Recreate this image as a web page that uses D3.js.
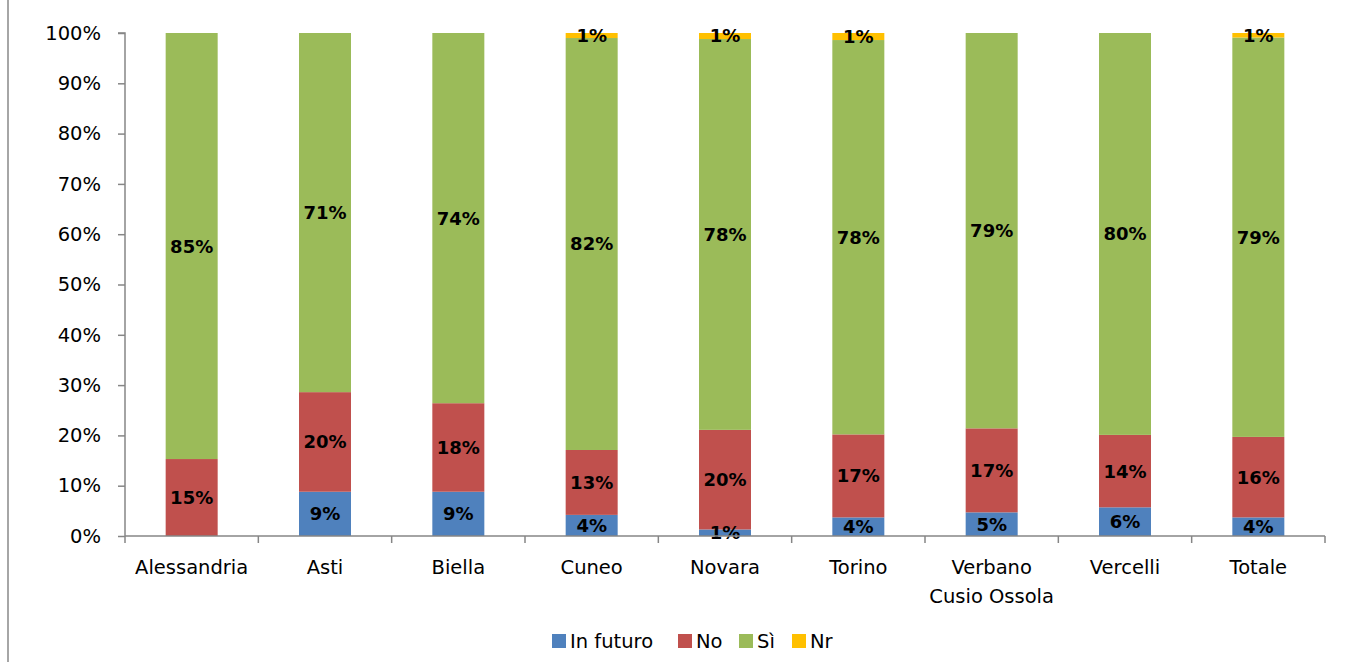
<!DOCTYPE html>
<html>
<head>
<meta charset="utf-8">
<script src="https://cdn.jsdelivr.net/npm/d3@7"></script>
<style>
  html, body { margin: 0; padding: 0; background: #fff; }
  svg { display: block; }
  text { font-family: "DejaVu Sans", Verdana, sans-serif; }
</style>
</head>
<body>
<svg id="chart" width="1365" height="662"></svg>
<script>
// Provinces (plus overall total) shown along the x axis
const categories = ["Alessandria", "Asti", "Biella", "Cuneo", "Novara", "Torino", "Verbano\nCusio Ossola", "Vercelli", "Totale"];
// Answer shares, in percent, per province
const inFuturo = [0.0, 8.8, 8.8, 4.2, 1.3, 3.7, 4.7, 5.7, 3.7];
const no       = [15.3, 19.8, 17.6, 12.9, 19.8, 16.5, 16.7, 14.4, 16.0];
const si       = [84.7, 71.4, 73.6, 81.9, 77.7, 78.4, 78.6, 79.9, 79.4];
const nr       = [0.0, 0.0, 0.0, 1.0, 1.2, 1.4, 0.0, 0.0, 0.9];
const seriesNames = ["In futuro", "No", "Sì", "Nr"];
const yTicks = [0, 10, 20, 30, 40, 50, 60, 70, 80, 90, 100];

const colors = ["#4F81BD", "#C0504D", "#9BBB59", "#FFC000"];
const seriesValues = [inFuturo, no, si, nr];

const svg = d3.select("#chart");
const margin = { left: 125, right: 40, top: 33, bottom: 126 };
const W = 1365, H = 662;

// Outer chart border (left edge visible)
svg.append("line")
  .attr("x1", 8).attr("x2", 8).attr("y1", 0).attr("y2", H)
  .attr("stroke", "#a6a6a6").attr("stroke-width", 2);

const x = d3.scaleBand().domain(categories).range([margin.left, W - margin.right]).paddingInner(0).paddingOuter(0);
const y = d3.scaleLinear().domain([0, 100]).range([H - margin.bottom, margin.top]);

const barW = x.bandwidth() * 0.39;

// Stack the four series per category
const rows = categories.map((c, i) => {
  const r = { cat: c };
  seriesNames.forEach((s, k) => r[s] = seriesValues[k][i]);
  return r;
});
const stack = d3.stack().keys(seriesNames)(rows);

const g = svg.append("g");
stack.forEach((layer, k) => {
  g.selectAll(null)
    .data(layer)
    .join("rect")
    .attr("x", d => x(d.data.cat) + (x.bandwidth() - barW) / 2)
    .attr("width", barW)
    .attr("y", d => y(d[1]))
    .attr("height", d => Math.max(0, y(d[0]) - y(d[1])))
    .attr("fill", colors[k]);
});

// Y axis
const yAxis = d3.axisLeft(y).tickValues(yTicks).tickFormat(d => d + "%").tickSize(7).tickPadding(17);
const yg = svg.append("g").attr("transform", `translate(${margin.left},0)`).call(yAxis);
yg.select(".domain").attr("stroke", "#868686").attr("stroke-width", 1.5).attr("d", `M-7,${y(100)}H0V${y(0)}`);
yg.selectAll(".tick line").attr("stroke", "#868686").attr("stroke-width", 1.5);
yg.selectAll(".tick text").attr("font-size", 19.5).attr("fill", "#000").attr("font-family", "DejaVu Sans, Verdana, sans-serif");

// X axis: baseline with ticks at band boundaries
const xg = svg.append("g");
xg.append("line")
  .attr("x1", margin.left).attr("x2", W - margin.right)
  .attr("y1", y(0)).attr("y2", y(0))
  .attr("stroke", "#868686").attr("stroke-width", 1.5);
const edges = categories.map(c => x(c)).concat([x(categories[categories.length - 1]) + x.bandwidth()]);
xg.selectAll(null).data(edges).join("line")
  .attr("x1", d => d).attr("x2", d => d)
  .attr("y1", y(0)).attr("y2", y(0) + 7)
  .attr("stroke", "#868686").attr("stroke-width", 1.5);
const catLabels = xg.selectAll(null).data(categories).join("text")
  .attr("x", d => x(d) + x.bandwidth() / 2)
  .attr("y", y(0) + 38)
  .attr("text-anchor", "middle")
  .attr("font-size", 19.5)
  .attr("fill", "#000");
catLabels.each(function(d) {
  const t = d3.select(this);
  d.split("\n").forEach((line, i) => {
    t.append("tspan").attr("x", x(d) + x.bandwidth() / 2).attr("dy", i === 0 ? 0 : 29).text(line);
  });
});

// Value labels centered in each segment
stack.forEach((layer, k) => {
  g.selectAll(null)
    .data(layer.filter(d => d[1] - d[0] > 0))
    .join("text")
    .attr("x", d => x(d.data.cat) + x.bandwidth() / 2)
    .attr("y", d => (y(d[0]) + y(d[1])) / 2)
    .attr("dy", "0.36em")
    .attr("text-anchor", "middle")
    .attr("font-size", 18)
    .attr("font-weight", "bold")
    .attr("fill", "#000")
    .text(d => Math.round(d[1] - d[0]) + "%");
});

// Legend
const legendItems = [
  { name: "In futuro", x: 552 },
  { name: "No", x: 678 },
  { name: "Sì", x: 739 },
  { name: "Nr", x: 792 }
];
const lg = svg.append("g");
legendItems.forEach((item, k) => {
  lg.append("rect").attr("x", item.x).attr("y", 634).attr("width", 14).attr("height", 14).attr("fill", colors[k]);
  lg.append("text").attr("x", item.x + 18).attr("y", 641).attr("dy", "0.36em")
    .attr("font-size", 19.5).attr("fill", "#000").text(item.name);
});
</script>
</body>
</html>
